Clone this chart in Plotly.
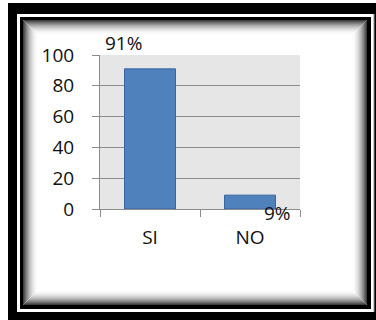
import plotly.graph_objects as go

# Survey answers and their percentages
categories = ["SI", "NO"]
percentages = [91, 9]
y_ticks = [0, 20, 40, 60, 80, 100]

W, H = 376, 320
# plot area in pixels
PX0, PX1 = 100, 300
PY0, PY1 = 55, 209  # top, bottom


def px(x, y):
    """Convert page pixels to paper coordinates."""
    return (x - PX0) / (PX1 - PX0), (PY1 - y) / (PY1 - PY0)


shapes = []


def rect(x0, y0, x1, y1, fill=None, line=None, lw=0):
    a, b = px(x0, y1)
    c, d = px(x1, y0)
    s = dict(type="rect", xref="paper", yref="paper", x0=a, y0=b, x1=c, y1=d,
             line=dict(width=lw, color=line or "rgba(0,0,0,0)"))
    if fill:
        s["fillcolor"] = fill
    shapes.append(s)


def band(x0, y0, x1, y1, tl, tt, tr, tb, color):
    rect(x0, y0, x1, y0 + tt, fill=color)
    rect(x0, y1 - tb, x1, y1, fill=color)
    rect(x0, y0, x0 + tl, y1, fill=color)
    rect(x1 - tr, y0, x1, y1, fill=color)


# outer heavy frame (runs off the right and bottom edges)
band(8, 3, 390, 330, 9, 11, 16, 18, "black")
# thin grey rule just outside the inner frame on the right
rect(373.5, 14, 374.5, 312, fill="#9a9a9a")
# inner frame
band(20, 17, 371, 309, 3, 3, 4, 4, "black")
# soft inner shadow
steps = 15
for i in range(steps):
    t = i / steps
    v = int(255 - 195 * (1 - t) ** 2)
    col = f"rgb({v},{v},{v})"
    rect(23.5 + i, 20.5 + i, 366.5 - i, 304.5 - i, line=col, lw=1)

fig = go.Figure()
fig.add_trace(go.Bar(
    x=categories, y=percentages,
    marker=dict(color="#4F81BD", line=dict(color="#3A66A0", width=1)),
    width=0.51,
))

font_family = "Open Sans, Lato, sans-serif"
annotations = []
offsets = [(-27, 26), (27, -18)]
for cat, val, (dx, dy) in zip(categories, percentages, offsets):
    annotations.append(dict(
        x=cat, y=val, xref="x", yref="y", text=f"{val}%", showarrow=False,
        xshift=dx, yshift=dy, font=dict(size=19, color="#111111", family=font_family),
        xanchor="center", yanchor="middle",
    ))

fig.update_layout(
    width=W, height=H,
    margin=dict(l=PX0, r=W - PX1, t=PY0, b=H - PY1, pad=0),
    paper_bgcolor="white",
    plot_bgcolor="#E6E6E6",
    showlegend=False,
    shapes=shapes,
    annotations=annotations,
    font=dict(family=font_family, color="#111111"),
    xaxis=dict(
        type="category", tickson="boundaries", ticks="outside", ticklen=7,
        tickcolor="#8C8C8C", showline=True, linecolor="#8C8C8C", linewidth=1,
        showgrid=False, tickfont=dict(size=19), ticklabelstandoff=11,
        range=[-0.5, 1.5],
    ),
    yaxis=dict(
        range=[0, 100], tickvals=y_ticks, ticks="outside", ticklen=7,
        tickcolor="#8C8C8C", showline=True, linecolor="#8C8C8C", linewidth=1,
        gridcolor="#8C8C8C", gridwidth=1, zeroline=False,
        tickfont=dict(size=19), ticklabelstandoff=14,
    ),
)

fig.write_html("out.html")
